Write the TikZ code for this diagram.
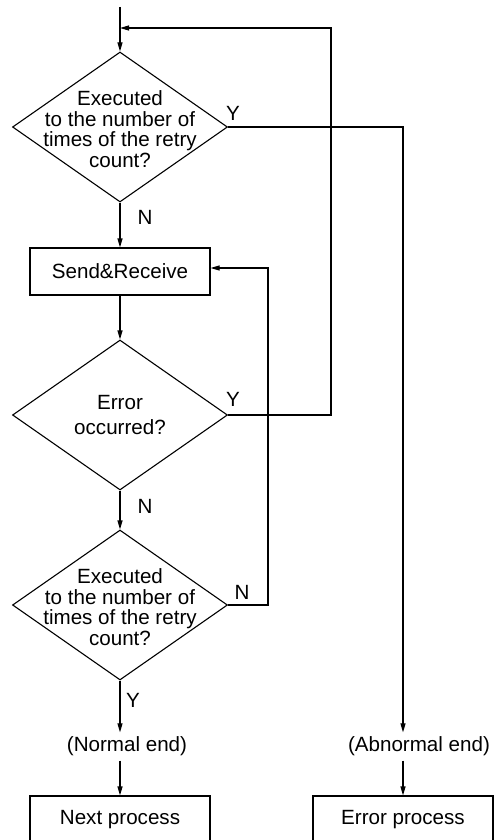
\documentclass[tikz,border=0pt]{standalone}
\usepackage{fontspec}
\setmainfont{Liberation Sans}
\usetikzlibrary{shapes.geometric,arrows.meta}

\begin{document}
\begin{tikzpicture}[x=0.5pt,y=-0.5pt,line width=0.55pt,
    every node/.style={font=\fontsize{10.3pt}{10.35pt}\selectfont},
    decision/.style={draw,diamond,inner sep=0pt,minimum width=107.5pt,minimum height=75pt},
    process/.style={draw,rectangle,inner sep=0pt,minimum width=90pt,minimum height=23.5pt},
    qtext/.style={align=center,inner sep=0pt},
    endtext/.style={inner xsep=0pt,inner ysep=2pt},
    yn/.style={inner sep=0pt},
    arr/.style={-{Triangle[length=4.5pt,width=2.5pt]}}]

% ===== Khung =====
\useasboundingbox (0,0) rectangle (497,840);
\clip (0,0) rectangle (497,840);

% ===== Các khối =====
\node[decision] (d1) at (120,127) {};
\node[qtext] (t1) at (120,129) {Executed\\to the number of\\times of the retry\\count?};

\node[process] (sr) at (120,271.5) {Send\&Receive};

\node[decision] (d2) at (120,415) {};
\node[qtext] (t2) at (120,415) {Error\\[2.15pt]occurred?};

\node[decision] (d3) at (120,605) {};
\node[qtext] (t3) at (120,607) {Executed\\to the number of\\times of the retry\\count?};

\node[endtext] (nend) at (127,746.5) {(Normal end)};
\node[endtext] (aend) at (419,746.5) {(Abnormal end)};

\node[process] (nbox) at (120,819.5) {Next process};
\node[process] (ebox) at (403,819.5) {Error process};

% ===== Điểm nối =====
\coordinate (start) at (120,7);
\coordinate (join) at (120,28);
\coordinate (retry) at (331,28);
\coordinate (loop) at (268,268);

% ===== Mũi tên =====
\draw[arr] (start) -- (d1.north);
\draw[arr] (d1.south) -- (sr.north);
\draw[arr] (sr.south) -- (d2.north);
\draw[arr] (d2.south) -- (d3.north);
\draw[arr] (d3.south) -- (d3.south |- nend.north);
\draw[arr] (d3.south |- nend.south) -- (nbox.north);

\draw[arr] (d1.east) -| (ebox |- aend.north);
\draw[arr] (ebox |- aend.south) -- (ebox.north);

\draw[arr] (d2.east) -| (retry) -- (join);
\draw[arr] (d3.east) -| (loop) -- (loop -| sr.east);

% ===== Nhãn Y/N =====
\node[yn] (y1) at (233,113) {Y};
\node[yn] (n1) at (145,217) {N};
\node[yn] (y2) at (233,399) {Y};
\node[yn] (n2) at (145,506) {N};
\node[yn] (n3) at (242,592) {N};
\node[yn] (y3) at (133,700) {Y};

\end{tikzpicture}
\end{document}
